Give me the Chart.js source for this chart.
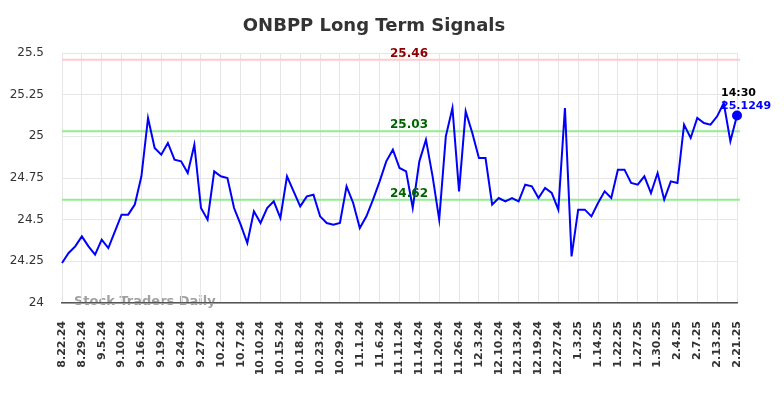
<!DOCTYPE html>
<html>
<head>
<meta charset="utf-8">
<script src="https://cdn.jsdelivr.net/npm/chart.js@4.4.1/dist/chart.umd.min.js"></script>
<style>
  html, body { margin: 0; padding: 0; background: #fff; }
  #wrap { width: 784px; height: 398px; position: relative; }
</style>
</head>
<body>
<div id="wrap"><canvas id="signalChart"></canvas></div>
<script>
        const tickLabels = [
            '8.22.24', '8.29.24', '9.5.24', '9.10.24', '9.16.24', '9.19.24', '9.24.24', '9.27.24',
            '10.2.24', '10.7.24', '10.10.24', '10.15.24', '10.18.24', '10.23.24', '10.29.24',
            '11.1.24', '11.6.24', '11.11.24', '11.14.24', '11.20.24', '11.26.24',
            '12.3.24', '12.10.24', '12.13.24', '12.19.24', '12.27.24',
            '1.3.25', '1.14.25', '1.22.25', '1.27.25', '1.30.25',
            '2.4.25', '2.7.25', '2.13.25', '2.21.25'
        ];

        const prices = [
            24.24, 24.30, 24.34, 24.40, 24.34, 24.29, 24.38, 24.33, 24.43, 24.53,
            24.53, 24.59, 24.76, 25.11, 24.93, 24.89, 24.96, 24.86, 24.85, 24.78,
            24.95, 24.57, 24.50, 24.79, 24.76, 24.75, 24.57, 24.47, 24.36, 24.55,
            24.48, 24.57, 24.61, 24.51, 24.76, 24.67, 24.58, 24.64, 24.65, 24.52,
            24.48, 24.47, 24.48, 24.70, 24.60, 24.45, 24.52, 24.62, 24.73, 24.85,
            24.92, 24.81, 24.79, 24.57, 24.85, 24.98, 24.76, 24.50, 25.00, 25.17,
            24.67, 25.15, 25.02, 24.87, 24.87, 24.59, 24.63, 24.61, 24.63, 24.61,
            24.71, 24.70, 24.63, 24.69, 24.66, 24.56, 25.17, 24.28, 24.56, 24.56,
            24.52, 24.60, 24.67, 24.63, 24.80, 24.80, 24.72, 24.71, 24.76, 24.66,
            24.78, 24.62, 24.73, 24.72, 25.07, 24.99, 25.11, 25.08, 25.07, 25.12,
            25.20, 24.97, 25.1249
        ];

        const yTicks = [24, 24.25, 24.5, 24.75, 25, 25.25, 25.5];

        const resistance = 25.46;
        const upperSignal = 25.03;
        const lowerSignal = 24.62;
        const lastTime = '14:30';

        const labelEvery = 3;
        const categories = prices.map((_, i) => i % labelEvery === 0 ? tickLabels[i / labelEvery] : '');
        const lastIndex = prices.length - 1;
        const fontFamily = 'DejaVu Sans';

        const overlayPlugin = {
            id: 'overlay',
            beforeDraw(chart) {
                const { ctx, scales: { y } } = chart;
                ctx.save();
                ctx.font = 'bold 18px ' + fontFamily;
                ctx.fillStyle = '#333333';
                ctx.textAlign = 'center';
                ctx.textBaseline = 'middle';
                ctx.fillText('ONBPP Long Term Signals', 374, 26);

                ctx.font = 'bold 13px ' + fontFamily;
                ctx.fillStyle = 'rgba(120,120,120,0.7)';
                ctx.textAlign = 'left';
                ctx.fillText('Stock Traders Daily', 74, y.getPixelForValue(24) - 1);
                ctx.restore();
            },
            beforeDatasetsDraw(chart) {
                const { ctx, chartArea, scales: { y } } = chart;
                const lines = [
                    [resistance, '#ffcccc'],
                    [upperSignal, '#90ee90'],
                    [lowerSignal, '#90ee90']
                ];
                ctx.save();
                ctx.lineWidth = 2;
                lines.forEach(([v, color]) => {
                    const py = y.getPixelForValue(v);
                    ctx.strokeStyle = color;
                    ctx.beginPath();
                    ctx.moveTo(chartArea.left, py);
                    ctx.lineTo(chartArea.right + 3, py);
                    ctx.stroke();
                });
                ctx.restore();
            },
            afterDraw(chart) {
                const { ctx, scales: { x, y } } = chart;
                const midX = 409;
                ctx.save();
                ctx.font = 'bold 12px ' + fontFamily;
                ctx.textAlign = 'center';
                ctx.textBaseline = 'alphabetic';
                ctx.fillStyle = '#8b0000';
                ctx.fillText(resistance.toFixed(2), midX, y.getPixelForValue(resistance) - 3);
                ctx.fillStyle = '#006400';
                ctx.fillText(upperSignal.toFixed(2), midX, y.getPixelForValue(upperSignal) - 3);
                ctx.fillText(lowerSignal.toFixed(2), midX, y.getPixelForValue(lowerSignal) - 3);

                const px = x.getPixelForValue(lastIndex);
                const py = y.getPixelForValue(prices[lastIndex]);
                ctx.font = 'bold 11px ' + fontFamily;
                ctx.textAlign = 'left';
                ctx.fillStyle = '#000000';
                ctx.fillText(lastTime, px - 16, py - 20);
                ctx.fillStyle = '#0000ff';
                ctx.fillText(String(prices[lastIndex]), px - 16, py - 7);
                ctx.restore();
            }
        };

        const ctx = document.getElementById('signalChart').getContext('2d');
        new Chart(ctx, {
            type: 'line',
            data: {
                labels: categories,
                datasets: [{
                    data: prices,
                    borderColor: '#0000ff',
                    backgroundColor: '#0000ff',
                    borderWidth: 2,
                    tension: 0,
                    pointRadius: (c) => c.dataIndex === lastIndex ? 4 : 0,
                    pointHoverRadius: 0
                }]
            },
            options: {
                responsive: true,
                maintainAspectRatio: false,
                animation: false,
                layout: {
                    padding: { top: 53, right: 47, left: 0, bottom: 0 }
                },
                plugins: {
                    legend: { display: false },
                    title: { display: false },
                    tooltip: { enabled: false }
                },
                scales: {
                    x: {
                        afterFit: (s) => { s.height = 95; },
                        grid: {
                            color: (c) => c.index % labelEvery === 0 ? '#e6e6e6' : 'rgba(0,0,0,0)',
                            drawTicks: false
                        },
                        border: { color: '#555555', width: 1.5 },
                        ticks: {
                            autoSkip: false,
                            maxRotation: 90,
                            minRotation: 90,
                            padding: 18,
                            color: '#333333',
                            font: { family: fontFamily, size: 11, weight: 'bold' }
                        }
                    },
                    y: {
                        min: 24,
                        max: 25.5,
                        afterFit: (s) => { s.width = 62; },
                        afterBuildTicks: (s) => { s.ticks = yTicks.map(v => ({ value: v })); },
                        grid: { color: '#e6e6e6', drawTicks: false },
                        border: { display: false },
                        ticks: {
                            padding: 18,
                            color: '#333333',
                            font: { family: fontFamily, size: 12 },
                            callback: (v) => String(+Number(v).toFixed(2))
                        }
                    }
                }
            },
            plugins: [overlayPlugin]
        });
</script>
</body>
</html>
